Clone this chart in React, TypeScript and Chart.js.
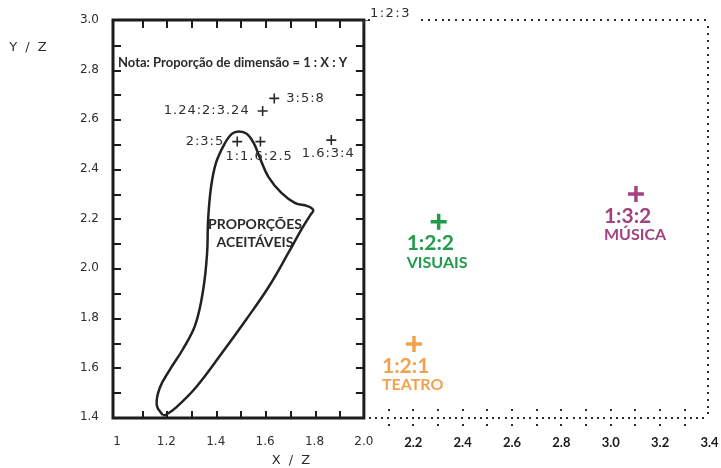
import React, { useEffect, useRef } from 'react';
import { Chart, registerables } from 'chart.js';

Chart.register(...registerables);

// ---- data ----
const xTickValues = [1.0, 1.2, 1.4, 1.6, 1.8, 2.0, 2.2, 2.4, 2.6, 2.8, 3.0, 3.2, 3.4];
const xTickLabels = ['1', '1.2', '1.4', '1.6', '1.8', '2.0', '2.2', '2.4', '2.6', '2.8', '3.0', '3.2', '3.4'];
const yTickValues = [1.4, 1.6, 1.8, 2.0, 2.2, 2.4, 2.6, 2.8, 3.0];
const yTickLabels = ['1.4', '1.6', '1.8', '2.0', '2.2', '2.4', '2.6', '2.8', '3.0'];

// classical proportions (black crosses)
const refLabels = ['3:5:8', '1.24:2:3.24', '2:3:5', '1:1.6:2.5', '1.6:3:4', '1:2:3'];
const refX = [1.637, 1.59, 1.487, 1.581, 1.868, 2.0];
const refY = [2.684, 2.633, 2.51, 2.51, 2.516, 3.0];

// arts rooms (coloured crosses)
const artRatios = ['1:2:2', '1:3:2', '1:2:1'];
const artNames = ['VISUAIS', 'MÚSICA', 'TEATRO'];
const artX = [2.303, 3.102, 2.203];
const artY = [2.187, 2.299, 1.694];
const artColors = ['#1f9b4a', '#a2437f', '#f3a24c'];

// outline of the "acceptable proportions" region
const curveX = [1.185, 1.161, 1.173, 1.213, 1.265, 1.317, 1.349, 1.365, 1.369, 1.381, 1.401, 1.433, 1.465, 1.494, 1.526, 1.554, 1.582, 1.614, 1.666, 1.722, 1.771, 1.795, 1.783, 1.746, 1.694, 1.614, 1.522, 1.425, 1.321, 1.241, 1.197, 1.185];
const curveY = [1.408, 1.448, 1.517, 1.589, 1.67, 1.771, 1.912, 2.061, 2.194, 2.327, 2.424, 2.496, 2.541, 2.551, 2.541, 2.504, 2.436, 2.367, 2.303, 2.262, 2.25, 2.234, 2.214, 2.154, 2.061, 1.924, 1.791, 1.658, 1.521, 1.44, 1.408, 1.408];

const noteText = 'Nota: Proporção de dimensão = 1 : X : Y';
const regionText = ['PROPORÇÕES', 'ACEITÁVEIS'];
const xTitle = 'X / Z';
const yTitle = 'Y / Z';

// ---- styles ----
const HAND = '"DejaVu Sans", sans-serif';
const BOLD = 'Lato, "Open Sans", sans-serif';
const INK = '#2a2a2a';
const HAND_INK = '#2e2e2e';

// label placement for the black crosses: [align, dx, dy]
const refPlacement: [CanvasTextAlign, number, number][] = [
  ['left', 12, 0],
  ['right', -13, 0],
  ['right', -13, 0],
  ['left', -35, 15],
  ['center', -3, 14],
  ['left', 6, -6],
];

function setSpacing(ctx: any, v: string) {
  if ('letterSpacing' in ctx) ctx.letterSpacing = v;
}

function dots(ctx: CanvasRenderingContext2D, x0: number, y0: number, x1: number, y1: number, step: number) {
  const len = Math.hypot(x1 - x0, y1 - y0);
  const n = Math.floor(len / step);
  for (let k = 0; k <= n; k++) {
    const t = n === 0 ? 0 : (k * step) / len;
    const x = Math.round(x0 + (x1 - x0) * t);
    const y = Math.round(y0 + (y1 - y0) * t);
    ctx.fillRect(x - 1, y - 1, 2, 2);
  }
}

const decoPlugin = {
  id: 'deco',
  beforeDatasetsDraw(chart: any) {
    const { ctx } = chart;
    const X = (v: number) => chart.scales.x.getPixelForValue(v);
    const Y = (v: number) => chart.scales.y.getPixelForValue(v);
    const L = X(1) - 4;
    const R = X(2);
    const T = Y(3);
    const B = Y(1.4) + 1;
    ctx.save();
    // solid frame
    ctx.strokeStyle = '#1c1c1c';
    ctx.lineWidth = 3;
    ctx.strokeRect(L, T, R - L, B - T);
    // inner ticks
    ctx.lineWidth = 2;
    ctx.beginPath();
    for (let i = 1; i < 10; i++) {
      const px = Math.round(X(1 + i / 10) + 1);
      ctx.moveTo(px, T);
      ctx.lineTo(px, T + 8);
      ctx.moveTo(px, B);
      ctx.lineTo(px, B - 7);
    }
    for (let i = 1; i < 16; i++) {
      const py = Math.round(Y(1.4 + i / 10) + 1);
      ctx.moveTo(L, py);
      ctx.lineTo(L + 8, py);
      ctx.moveTo(R, py);
      ctx.lineTo(R - 8, py);
    }
    ctx.stroke();

    // dotted frame to the right
    const RR = X(3.4) - 2;
    ctx.fillStyle = '#2a2a2a';
    dots(ctx, X(2) + 58, T, RR, T, 6.9);
    dots(ctx, X(2) + 5, T, X(2) + 5, T, 7);
    dots(ctx, RR, T + 7, RR, B, 6.9);
    const step = (X(2.1) - X(2)) / 4;
    dots(ctx, R + 6, B, RR, B, step);
    for (let i = 1; i < 14; i++) {
      const px = Math.round(X(2 + i / 10));
      ctx.fillRect(px - 1, B - 9, 2, 2);
      ctx.fillRect(px - 1, B + 6, 2, 2);
    }
    ctx.restore();
  },
  afterDatasetsDraw(chart: any) {
    const { ctx } = chart;
    const X = (v: number) => chart.scales.x.getPixelForValue(v);
    const Y = (v: number) => chart.scales.y.getPixelForValue(v);
    ctx.save();
    ctx.textBaseline = 'middle';

    // black cross labels
    const refMeta = chart.getDatasetMeta(1);
    ctx.fillStyle = HAND_INK;
    refLabels.forEach((t, i) => {
      const el = refMeta.data[i];
      const [align, dx, dy] = refPlacement[i];
      ctx.font = '13px ' + HAND;
      setSpacing(ctx, i === 5 ? '1.5px' : '1px');
      ctx.textAlign = align;
      ctx.fillText(t, el.x + dx, el.y + dy);
    });

    // coloured labels
    const artMeta = chart.getDatasetMeta(2);
    setSpacing(ctx, '0px');
    ctx.textAlign = 'left';
    artRatios.forEach((t, i) => {
      const el = artMeta.data[i];
      ctx.fillStyle = artColors[i];
      ctx.font = 'bold 21px ' + BOLD;
      ctx.fillText(t, el.x - 32, el.y + 22);
      ctx.font = 'bold 16px ' + BOLD;
      ctx.fillText(artNames[i], el.x - 32, el.y + 41);
    });

    // note and region text
    ctx.fillStyle = INK;
    ctx.font = 'bold 13px ' + BOLD;
    ctx.textAlign = 'left';
    ctx.fillText(noteText, X(1) + 1, Y(2.828));
    ctx.font = 'bold 14px ' + BOLD;
    ctx.textAlign = 'center';
    ctx.fillText(regionText[0], 255, 224);
    ctx.fillText(regionText[1], 255, 242);

    // axis titles
    ctx.fillStyle = HAND_INK;
    ctx.font = '13px ' + HAND;
    setSpacing(ctx, '2px');
    ctx.fillText(yTitle, 29, 48);
    ctx.fillText(xTitle, 292, 461);
    ctx.restore();
  },
};

export default function App() {
  const ref = useRef<HTMLCanvasElement>(null);

  useEffect(() => {
    const canvas = ref.current;
    if (!canvas) return;
    const chart = new Chart(canvas, {
      type: 'scatter',
      data: {
        datasets: [
          {
            data: curveX.map((x, i) => ({ x, y: curveY[i] })),
            showLine: true,
            borderColor: '#222',
            borderWidth: 2.5,
            pointRadius: 0,
            tension: 0.4,
            fill: false,
          },
          {
            data: refX.map((x, i) => ({ x, y: refY[i] })),
            pointStyle: 'cross',
            pointRadius: 5,
            borderWidth: 1.6,
            borderColor: '#2a2a2a',
            showLine: false,
          },
          {
            data: artX.map((x, i) => ({ x, y: artY[i] })),
            pointStyle: 'cross',
            pointRadius: 8,
            borderWidth: 3.5,
            borderColor: artColors,
            showLine: false,
          },
        ],
      } as any,
      options: {
        responsive: false,
        animation: false,
        layout: { padding: { top: 20, right: 6, left: 0, bottom: 0 } },
        plugins: { legend: { display: false }, tooltip: { enabled: false } },
        scales: {
          x: {
            type: 'linear',
            min: 1,
            max: 3.4,
            afterBuildTicks: (s: any) => {
              s.ticks = xTickValues.map((value) => ({ value }));
            },
            afterFit: (s: any) => {
              s.height = 51;
              s.paddingLeft = 0;
              s.paddingRight = 0;
            },
            grid: { display: false, drawTicks: false },
            border: { display: false },
            ticks: {
              autoSkip: false,
              maxRotation: 0,
              padding: 18,
              callback: (_v: any, i: number) => xTickLabels[i],
              font: (c: any) =>
                c.tick && c.tick.value > 2.05
                  ? { family: BOLD, weight: 'bold', size: 13 }
                  : { family: HAND, size: 12 },
              color: (c: any) => (c.tick && c.tick.value > 2.05 ? '#1a1a1a' : HAND_INK),
            },
          },
          y: {
            type: 'linear',
            min: 1.4,
            max: 3.0,
            afterBuildTicks: (s: any) => {
              s.ticks = yTickValues.map((value) => ({ value }));
            },
            afterFit: (s: any) => {
              s.width = 117;
              s.paddingTop = 0;
              s.paddingBottom = 0;
            },
            grid: { display: false, drawTicks: false },
            border: { display: false },
            ticks: {
              padding: 18,
              callback: (_v: any, i: number) => yTickLabels[i],
              font: { family: HAND, size: 12 },
              color: HAND_INK,
            },
          },
        },
      } as any,
      plugins: [decoPlugin],
    });
    return () => chart.destroy();
  }, []);

  return (
    <div style={{ position: 'absolute', left: 0, top: 0, width: 721, height: 468, background: '#fff' }}>
      <canvas ref={ref} width={721} height={468} style={{ display: 'block' }} />
    </div>
  );
}
